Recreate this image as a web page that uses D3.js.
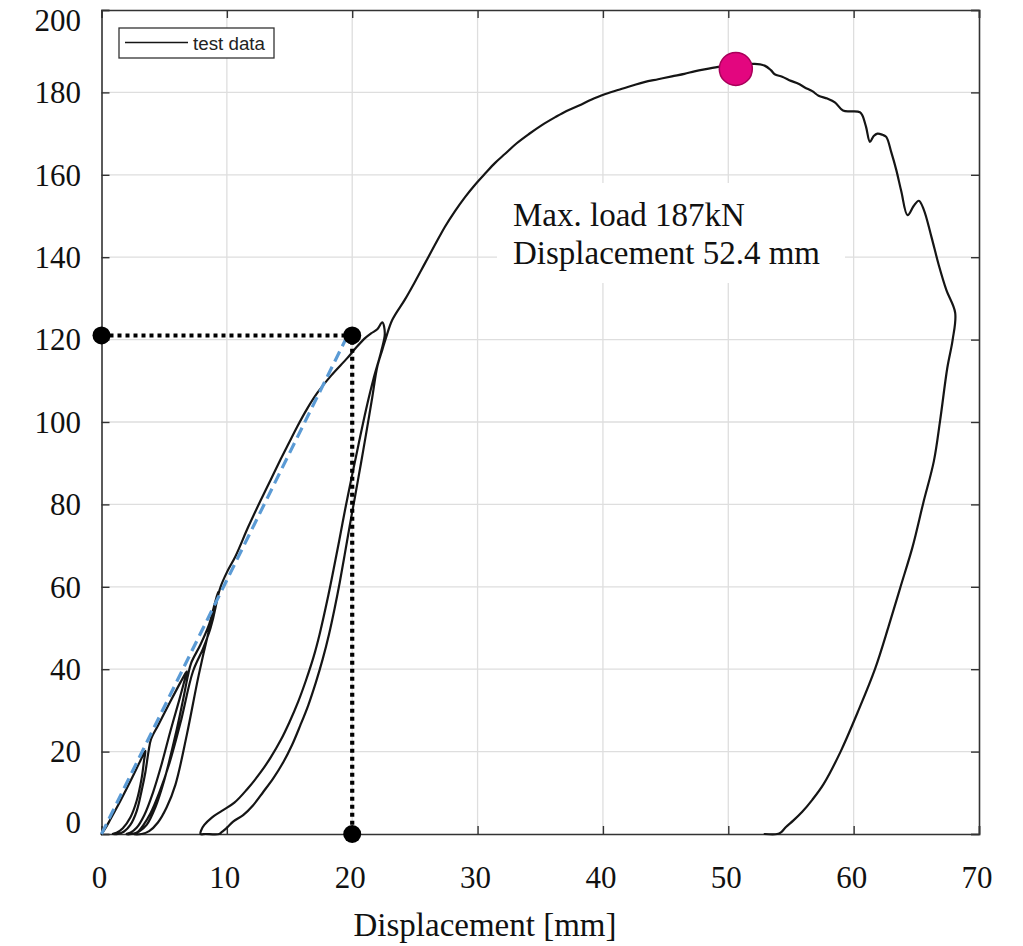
<!DOCTYPE html>
<html>
<head>
<meta charset="utf-8">
<script src="https://cdn.jsdelivr.net/npm/d3@7"></script>
<style>
  html, body { margin: 0; padding: 0; background: #fff; }
  svg { display: block; }
</style>
</head>
<body>
<svg id="chart" width="1023" height="946"></svg>
<script>
// ---------- data ----------
const xTicks = [0, 10, 20, 30, 40, 50, 60, 70];
const yTicks = [0, 20, 40, 60, 80, 100, 120, 140, 160, 180, 200];
const xTitle = "Displacement [mm]";
const legendLabel = "test data";
const annotationLines = ["Max. load 187kN", "Displacement 52.4 mm"];

// test data: displacement (mm) and load (kN), in recording order
const displacement = [
  0, 0.35, 0.7, 1.5, 2.5, 3.1, 3.5,
  3.4, 3.2, 2.8, 2.3, 1.7, 1.2, 0.9,
  1.3, 1.8, 2.3, 2.8, 3.2, 3.5, 3.75, 3.95,
  4.5, 5.5, 6.3, 6.8,
  6.6, 6.2, 5.5, 4.8, 4.1, 3.4, 2.8, 2.3, 2.0,
  2.4, 3.0, 3.6, 4.3, 5.0, 5.9, 6.5, 6.9, 7.15,
  7.9, 8.6, 9.0, 9.3,
  9.1, 8.7, 8.1, 7.3, 6.3, 5.4, 4.6, 3.9, 3.3, 2.9, 2.6,
  3.2, 3.8, 4.5, 5.2, 5.9, 6.8, 7.75, 8.5, 9.1, 9.5, 10.0,
  10.7, 11.7, 12.7, 13.5, 14.3, 15.0, 15.6, 16.4, 17.2, 18.3, 19.6, 20.3, 21.0, 21.5, 22.0, 22.4, 22.6,
  22.3, 21.7, 21.1, 20.5, 19.95, 19.45, 18.95, 18.5, 18.1, 17.4, 16.9, 16.3, 15.7, 15.0, 14.3, 13.5, 12.7, 11.6, 10.6, 9.6, 8.8, 8.2, 7.95, 7.9,
  8.3, 9.4,
  9.6, 10.0, 10.5, 11.3, 12.1, 12.9, 13.7, 14.5, 15.2, 15.85, 16.5, 17.1, 17.65, 18.15, 18.6, 19.0, 19.4, 19.8, 20.2, 20.7, 21.1, 21.6, 22.0, 22.4, 22.7,
  23.2, 24.2, 25.0, 25.8, 26.6, 27.4, 28.2, 29.0, 29.8, 30.6, 31.4, 32.2, 33.1, 34.1, 35.1, 36.2, 37.1, 38.1, 39.1, 40.2, 41.2, 42.3, 43.3, 44.4, 45.5, 46.5, 47.3, 48.1, 49.2, 50.2, 51.2, 52.1, 52.9,
  53.4, 53.7, 54.3, 55.0, 55.6, 56.1, 56.7, 57.2, 57.9, 58.5, 59.15, 59.8, 60.5, 60.7, 61.0, 61.3, 61.6, 61.9, 62.3, 62.6, 63.0, 63.4, 63.8, 64.3, 64.8, 65.2, 65.6, 66.2, 66.8, 67.4, 68.1,
  67.9, 67.47, 66.9, 66.4, 65.55, 64.7, 63.76, 62.8, 61.7, 60.33, 58.96, 57.6, 56.7, 55.9, 55.2, 54.6, 54.2, 53.9, 52.9
];
const load = [
  0, 1.6, 3.5, 8, 14, 17.8, 20.2,
  18, 13.5, 8, 4, 1.4, 0.3, 0,
  0, 0.6, 2.2, 5.5, 10.5, 15, 20, 23,
  26.3, 32.2, 36.8, 39.5,
  37, 32.5, 25, 17, 10, 4.5, 1.5, 0.3, 0,
  0, 0.6, 2.2, 6.5, 13, 24, 32.5, 38.5, 41.5,
  46, 51, 55.5, 58.8,
  55, 50, 45, 39.5, 27, 17, 10, 5, 2, 0.5, 0,
  0, 0.7, 2.8, 6.5, 12, 24, 38.5, 48.5, 55.5, 60, 63.5,
  67.5, 74.5, 81, 86, 91, 95.2, 98.8, 103.2, 107, 111.2, 115.5, 118, 120.3, 121.5, 122.5, 124.2, 121.5,
  117, 110.5, 103, 94.5, 86.5, 79, 71, 64, 58, 48.5, 42.8, 37.2, 32.2, 27.2, 22.8, 18.6, 15, 10.8, 7.6, 5.6, 4, 2.2, 0.9, 0,
  0, 0,
  0.5, 1.5, 3, 4.6, 7, 10.2, 13.5, 17.4, 21.6, 26.3, 31.3, 36.8, 42.5, 48.5, 54.8, 61, 67.8, 74.8, 81.5, 90, 97, 106, 113.4, 117.5, 120.5,
  124.8, 129.7, 134, 138.5, 143, 147.4, 151.2, 154.6, 157.6, 160.3, 162.9, 165.1, 167.6, 169.9, 172, 174, 175.5, 176.8, 178.3, 179.6, 180.6, 181.6, 182.5, 183.2, 183.9, 184.5, 185.1, 185.6, 186.2, 186.6, 186.8, 186.9, 186.5,
  185.4, 184.4, 183.8, 182.8, 182.1, 181.2, 180.3, 179.2, 178.5, 177.6, 175.6, 175.4, 175.2, 174.4, 171.5, 168, 169.4, 170, 169.7, 169.2, 165.5, 161.2, 156, 150.2, 152.5, 153.7, 151.5, 145, 138, 132, 126.5,
  120, 113.1, 100.4, 90.5, 80.3, 69.7, 60.2, 50.5, 40.0, 29.6, 20, 12.1, 8.3, 5.4, 3.3, 1.7, 0.4, 0, 0
];

// initial stiffness line (blue dashed)
const stiffX = [0, 19.5];
const stiffY = [0, 120.2];

// yield point guide (dotted)
const guideX = [0, 20, 20];
const guideY = [121, 121, 0];

// max load marker
const peakX = [50.6];
const peakY = [185.7];

// ---------- layout ----------
const svg = d3.select("#chart");
const L = 101.5, R = 979, T = 10, B = 834;
const x = d3.scaleLinear().domain([0, 70]).range([L, R]);
const y = d3.scaleLinear().domain([0, 200]).range([B, T]);

const serif = "'Liberation Serif', 'Times New Roman', Times, serif";
const sans = "'Liberation Sans', Arial, Helvetica, sans-serif";

// grid
const grid = svg.append("g");
grid.selectAll("line.gx").data(xTicks.slice(1, -1)).join("line")
  .attr("x1", d => x(d)).attr("x2", d => x(d))
  .attr("y1", T).attr("y2", B)
  .attr("stroke", "#dedede").attr("stroke-width", 1.3);
grid.selectAll("line.gy").data(yTicks.slice(1, -1)).join("line")
  .attr("x1", L).attr("x2", R)
  .attr("y1", d => y(d)).attr("y2", d => y(d))
  .attr("stroke", "#dedede").attr("stroke-width", 1.3);

// axes with inward ticks (all four sides)
const tickLen = 8;
const axB = svg.append("g").attr("transform", `translate(0,${B})`)
  .call(d3.axisBottom(x).tickValues(xTicks).tickSize(-tickLen).tickFormat(""));
const axT = svg.append("g").attr("transform", `translate(0,${T})`)
  .call(d3.axisTop(x).tickValues(xTicks).tickSize(-tickLen).tickFormat(""));
const axL = svg.append("g").attr("transform", `translate(${L},0)`)
  .call(d3.axisLeft(y).tickValues(yTicks).tickSize(-tickLen).tickFormat(""));
const axR = svg.append("g").attr("transform", `translate(${R},0)`)
  .call(d3.axisRight(y).tickValues(yTicks).tickSize(-tickLen).tickFormat(""));
[axB, axT, axL, axR].forEach(a => {
  a.selectAll("path.domain").attr("stroke", "#333").attr("stroke-width", 1.6);
  a.selectAll(".tick line").attr("stroke", "#333").attr("stroke-width", 1.4);
});

// tick labels
svg.append("g").selectAll("text").data(xTicks).join("text")
  .attr("x", d => x(d) - 2)
  .attr("y", 888)
  .attr("text-anchor", "middle")
  .attr("font-family", serif).attr("font-size", 31).attr("fill", "#111")
  .text(d => d);
svg.append("g").selectAll("text").data(yTicks).join("text")
  .attr("x", 81)
  .attr("y", d => y(d) + (d === 0 ? -12 : d === 200 ? 10 : 0))
  .attr("dy", "0.35em")
  .attr("text-anchor", "end")
  .attr("font-family", serif).attr("font-size", 31).attr("fill", "#111")
  .text(d => d);

// axis title
svg.append("text")
  .attr("x", 485).attr("y", 936)
  .attr("text-anchor", "middle")
  .attr("font-family", serif).attr("font-size", 33).attr("fill", "#111")
  .text(xTitle);

// test data curve (smoothed through the read points)
const pts = displacement.map((d, i) => [d, load[i]]);
const line = d3.line().x(d => x(d[0])).y(d => y(d[1]));
const smooth = d3.line().x(d => x(d[0])).y(d => y(d[1])).curve(d3.curveCatmullRom.alpha(0.5));
svg.append("path").datum(pts)
  .attr("d", smooth)
  .attr("fill", "none").attr("stroke", "#151515").attr("stroke-width", 2.2)
  .attr("stroke-linejoin", "round").attr("stroke-linecap", "round");

// stiffness line
svg.append("path").datum(stiffX.map((d, i) => [d, stiffY[i]]))
  .attr("d", line)
  .attr("fill", "none").attr("stroke", "#5b9bd5").attr("stroke-width", 3.2)
  .attr("stroke-dasharray", "11,6");

// dotted guides
svg.append("path").datum(guideX.map((d, i) => [d, guideY[i]]))
  .attr("d", line)
  .attr("fill", "none").attr("stroke", "#000").attr("stroke-width", 4.2)
  .attr("stroke-dasharray", "4,4");
svg.append("g").selectAll("circle").data(guideX.map((d, i) => [d, guideY[i]])).join("circle")
  .attr("cx", d => x(d[0])).attr("cy", d => y(d[1]))
  .attr("r", 9).attr("fill", "#000");

// peak marker
svg.append("g").selectAll("circle").data(peakX.map((d, i) => [d, peakY[i]])).join("circle")
  .attr("cx", d => x(d[0])).attr("cy", d => y(d[1]))
  .attr("r", 16.5).attr("fill", "#e3067f").attr("stroke", "#a8005a").attr("stroke-width", 1.5);

// annotation with white background
svg.append("rect")
  .attr("x", 497).attr("y", 183).attr("width", 348).attr("height", 100)
  .attr("fill", "#fff");
svg.append("g").selectAll("text").data(annotationLines).join("text")
  .attr("x", 513).attr("y", (d, i) => 226 + i * 38)
  .attr("font-family", serif).attr("font-size", 33).attr("fill", "#111")
  .text(d => d);

// legend
const lg = svg.append("g");
lg.append("rect").attr("x", 119).attr("y", 28).attr("width", 155).attr("height", 30)
  .attr("fill", "#fff").attr("stroke", "#333").attr("stroke-width", 1.3);
lg.append("line").attr("x1", 125).attr("x2", 188).attr("y1", 42.5).attr("y2", 42.5)
  .attr("stroke", "#151515").attr("stroke-width", 1.6);
lg.append("text").attr("x", 193).attr("y", 49.5)
  .attr("font-family", sans).attr("font-size", 17.5).attr("fill", "#222")
  .attr("textLength", 72).attr("lengthAdjust", "spacingAndGlyphs")
  .text(legendLabel);
</script>
</body>
</html>
